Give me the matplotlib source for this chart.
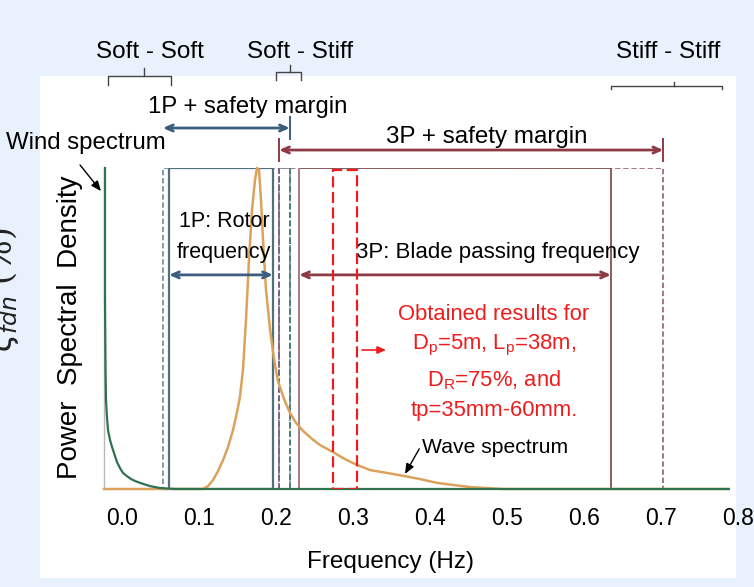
import matplotlib
matplotlib.use("Agg")
import matplotlib.pyplot as plt
from matplotlib.patches import Rectangle

# Datos (frecuencia en Hz, PSD normalizada 0-1)
wind_freq = [-0.0221, -0.0221, -0.0214, -0.0208, -0.0195, -0.0182, -0.0156, -0.0130,
             -0.0104, -0.0065, -0.0026, 0.0013, 0.0065, 0.0117, 0.0169, 0.0234,
             0.0364, 0.0494, 0.0688, 0.788]
wind_psd = [1.0, 0.589, 0.371, 0.277, 0.221, 0.184, 0.153, 0.131,
            0.112, 0.084, 0.065, 0.050, 0.040, 0.031, 0.025, 0.019,
            0.009, 0.003, 0.0, 0.0]

wave_freq = [-0.0234, 0.1052, 0.1117, 0.1182, 0.1247, 0.1312, 0.1377, 0.1442, 0.1494,
             0.1532, 0.1571, 0.1610, 0.1649, 0.1688, 0.1727, 0.1753, 0.1779, 0.1805,
             0.1831, 0.1870, 0.1922, 0.1974, 0.2026, 0.2104, 0.2182, 0.2260, 0.2351,
             0.2468, 0.2571, 0.2740, 0.2896, 0.3052, 0.3221, 0.3442, 0.3675, 0.3870,
             0.4091, 0.4325, 0.4519, 0.4948, 0.788]
wave_psd = [0.0, 0.0, 0.009, 0.028, 0.056, 0.090, 0.131, 0.184, 0.240,
            0.287, 0.371, 0.526, 0.713, 0.869, 0.963, 1.0, 0.994, 0.900,
            0.776, 0.620, 0.498, 0.405, 0.336, 0.280, 0.237, 0.206, 0.181,
            0.156, 0.137, 0.115, 0.093, 0.075, 0.059, 0.050, 0.040, 0.031,
            0.019, 0.012, 0.006, 0.0, 0.0]

# Rangos de frecuencia
range_1p = (0.061, 0.196)
range_1p_margin = (0.053, 0.218)
range_3p = (0.230, 0.635)
range_3p_margin = (0.204, 0.703)
range_results = (0.274, 0.305)

xtick_values = [0.0, 0.1, 0.2, 0.3, 0.4, 0.5, 0.6, 0.7, 0.8]
xtick_labels = ["0.0", "0.1", "0.2", "0.3", "0.4", "0.5", "0.6", "0.7", "0.8"]

FONT = "Liberation Sans"
plt.rcParams["font.family"] = [FONT, "DejaVu Sans"]
plt.rcParams["mathtext.fontset"] = "custom"
plt.rcParams["mathtext.rm"] = FONT

BG = "#e9f2fc"
ORANGE = "#dca25c"
GREEN = "#2f7250"
NAVY = "#3d5d80"
DARKRED = "#8e3a46"
BOX1 = "#4f717e"
BOX1M = "#7d929a"
BOX3 = "#8a5c5e"
BOX3M = "#9c6e76"
RED = "#ee1c1c"

W, H = 754, 587
fig = plt.figure(figsize=(W / 100, H / 100), dpi=100, facecolor=BG)

# Panel blanco detras de todo
fig.patches.append(Rectangle((40 / W, (H - 578) / H), 696 / W, 502 / H,
                             transform=fig.transFigure, facecolor="white",
                             edgecolor="none", zorder=-5))

x0, x1 = -0.0234, 0.81
ax = fig.add_axes([104 / W, (H - 489) / H, (745.7 - 104) / W, 321 / H])
ax.set_zorder(1)
ax.set_facecolor("none")
ax.set_xlim(x0, x1)
ax.set_ylim(0, 1)
for s in ["top", "right", "bottom"]:
    ax.spines[s].set_visible(False)
ax.spines["left"].set_color("#b8b8b8")
ax.spines["left"].set_linewidth(1.0)
ax.set_yticks([])
ax.set_xticks(xtick_values)
ax.set_xticklabels(xtick_labels, fontsize=16.5)
ax.tick_params(axis="x", length=0, pad=13)

# Cajas de rangos
def box(rng, top, color, ls, lw, z=2):
    ax.add_patch(Rectangle((rng[0], 0), rng[1] - rng[0], top, fill=False,
                           edgecolor=color, linestyle=ls, linewidth=lw, zorder=z))

box(range_3p_margin, 1.0, BOX3M, (0, (3, 1.5)), 1.3)
box(range_1p_margin, 1.0, BOX1M, (0, (3, 1.5)), 1.3)
box(range_3p, 1.0, BOX3, "-", 1.4)
box(range_1p, 1.0, BOX1, "-", 1.6)
ax.plot([range_3p_margin[0]] * 2, [0, 1], color="#7a6484", ls=(0, (3, 1.5)), lw=1.4, zorder=2)
ax.plot([range_1p_margin[1]] * 2, [0, 1], color="#4d7c84", ls=(0, (3, 1.5)), lw=1.4, zorder=2)
ax.plot([range_3p[0]] * 2, [0, 1], color="#a88088", lw=1.4, zorder=2)
box(range_results, 0.994, RED, (0, (5, 2)), 1.6, z=4)

# Espectros
ax.plot(wave_freq, wave_psd, color=ORANGE, lw=1.8, zorder=3, clip_on=False)
ax.plot(wind_freq, wind_psd, color=GREEN, lw=1.6, zorder=3, clip_on=False)

# Flechas
def darrow(xa, xb, y, color, bars=()):
    ax.annotate("", xy=(xa, y), xytext=(xb, y), annotation_clip=False,
                arrowprops=dict(arrowstyle="<->,head_length=0.5,head_width=0.22",
                                color=color, lw=2.0, shrinkA=0, shrinkB=0))
    for xb_ in bars:
        ax.plot([xb_, xb_], [y - 0.035, y + 0.035], color=color, lw=1.4, clip_on=False)

darrow(range_1p_margin[0], range_1p_margin[1], 1.1246, NAVY, bars=[range_1p_margin[1]])
darrow(range_3p_margin[0], range_3p_margin[1], 1.056, DARKRED,
       bars=[range_3p_margin[0], range_3p_margin[1]])
darrow(range_1p[0], range_1p[1], 0.667, NAVY)
darrow(range_3p[0], range_3p[1], 0.667, DARKRED)

ax.annotate("", xy=(0.3429, 0.433), xytext=(0.3117, 0.433),
            arrowprops=dict(arrowstyle="-|>,head_length=0.5,head_width=0.22",
                            color=RED, lw=1.2, shrinkA=0, shrinkB=0))

# Textos
kw = dict(ha="center", va="center", clip_on=False)
ax.text(0.1636, 1.19, "1P + safety margin", fontsize=17.2, **kw)
ax.text(0.474, 1.0966, "3P + safety margin", fontsize=17.4, **kw)
ax.text(0.1325, 0.832, "1P: Rotor", fontsize=15.5, **kw)
ax.text(0.1325, 0.738, "frequency", fontsize=15.5, **kw)
ax.text(0.488, 0.738, "3P: Blade passing frequency", fontsize=16, **kw)

red_lines = ["Obtained results for",
             r"D$_\mathregular{p}$=5m, L$_\mathregular{p}$=38m,",
             r"D$_\mathregular{R}$=75%, and",
             "tp=35mm-60mm."]
red_y = [0.543, 0.446, 0.340, 0.246]
for line, yy in zip(red_lines, red_y):
    ax.text(0.483, yy, line, fontsize=15.8, color=RED, **kw)

ax.text(0.390, 0.128, "Wave spectrum", fontsize=15.2, ha="left", va="center")
ax.annotate("", xy=(0.3675, 0.047), xytext=(0.386, 0.125),
            arrowprops=dict(arrowstyle="-|>,head_length=0.6,head_width=0.25",
                            color="black", lw=1.0, shrinkA=0, shrinkB=0))
ax.text(-0.0468, 1.078, "Wind spectrum", fontsize=17.3, **kw)
ax.annotate("", xy=(-0.0273, 0.928), xytext=(-0.0545, 1.0093), annotation_clip=False,
            arrowprops=dict(arrowstyle="-|>,head_length=0.6,head_width=0.25",
                            color="black", lw=1.0, shrinkA=0, shrinkB=0))

# Llaves de regimen
def bracket(xa, xb, xc, y_h, y_end, y_tip):
    ax.plot([xa, xa, xb, xb], [y_end, y_h, y_h, y_end], color="#444444", lw=1.0, clip_on=False)
    ax.plot([xc, xc], [y_h, y_tip], color="#444444", lw=1.0, clip_on=False)

bracket(-0.0182, 0.0636, 0.0286, 1.2866, 1.2586, 1.3115)
ax.text(0.036, 1.361, "Soft - Soft", fontsize=17.5, **kw)
bracket(0.2, 0.2325, 0.218, 1.299, 1.274, 1.321)
ax.text(0.231, 1.361, "Soft - Stiff", fontsize=17.5, **kw)
bracket(0.635, 0.7792, 0.717, 1.2555, 1.2461, 1.2679)
ax.text(0.709, 1.361, "Stiff - Stiff", fontsize=17.5, **kw)

ax.text(0.4457, -0.228, "Frequency (Hz)", fontsize=17.5, transform=ax.transAxes, **kw)
ax.text(-0.053, 0.505, "Power  Spectral  Density", fontsize=20, rotation=90,
        transform=ax.transAxes, **kw)

# Etiqueta cortada en el borde izquierdo
fig.text(21 / W, 1 - 290 / H, r"$\zeta_{fdn}$ (%)", fontsize=24, rotation=90,
         ha="right", va="center", family="DejaVu Serif", color="#222222")

fig.savefig("out.png", dpi=100, facecolor=BG)
